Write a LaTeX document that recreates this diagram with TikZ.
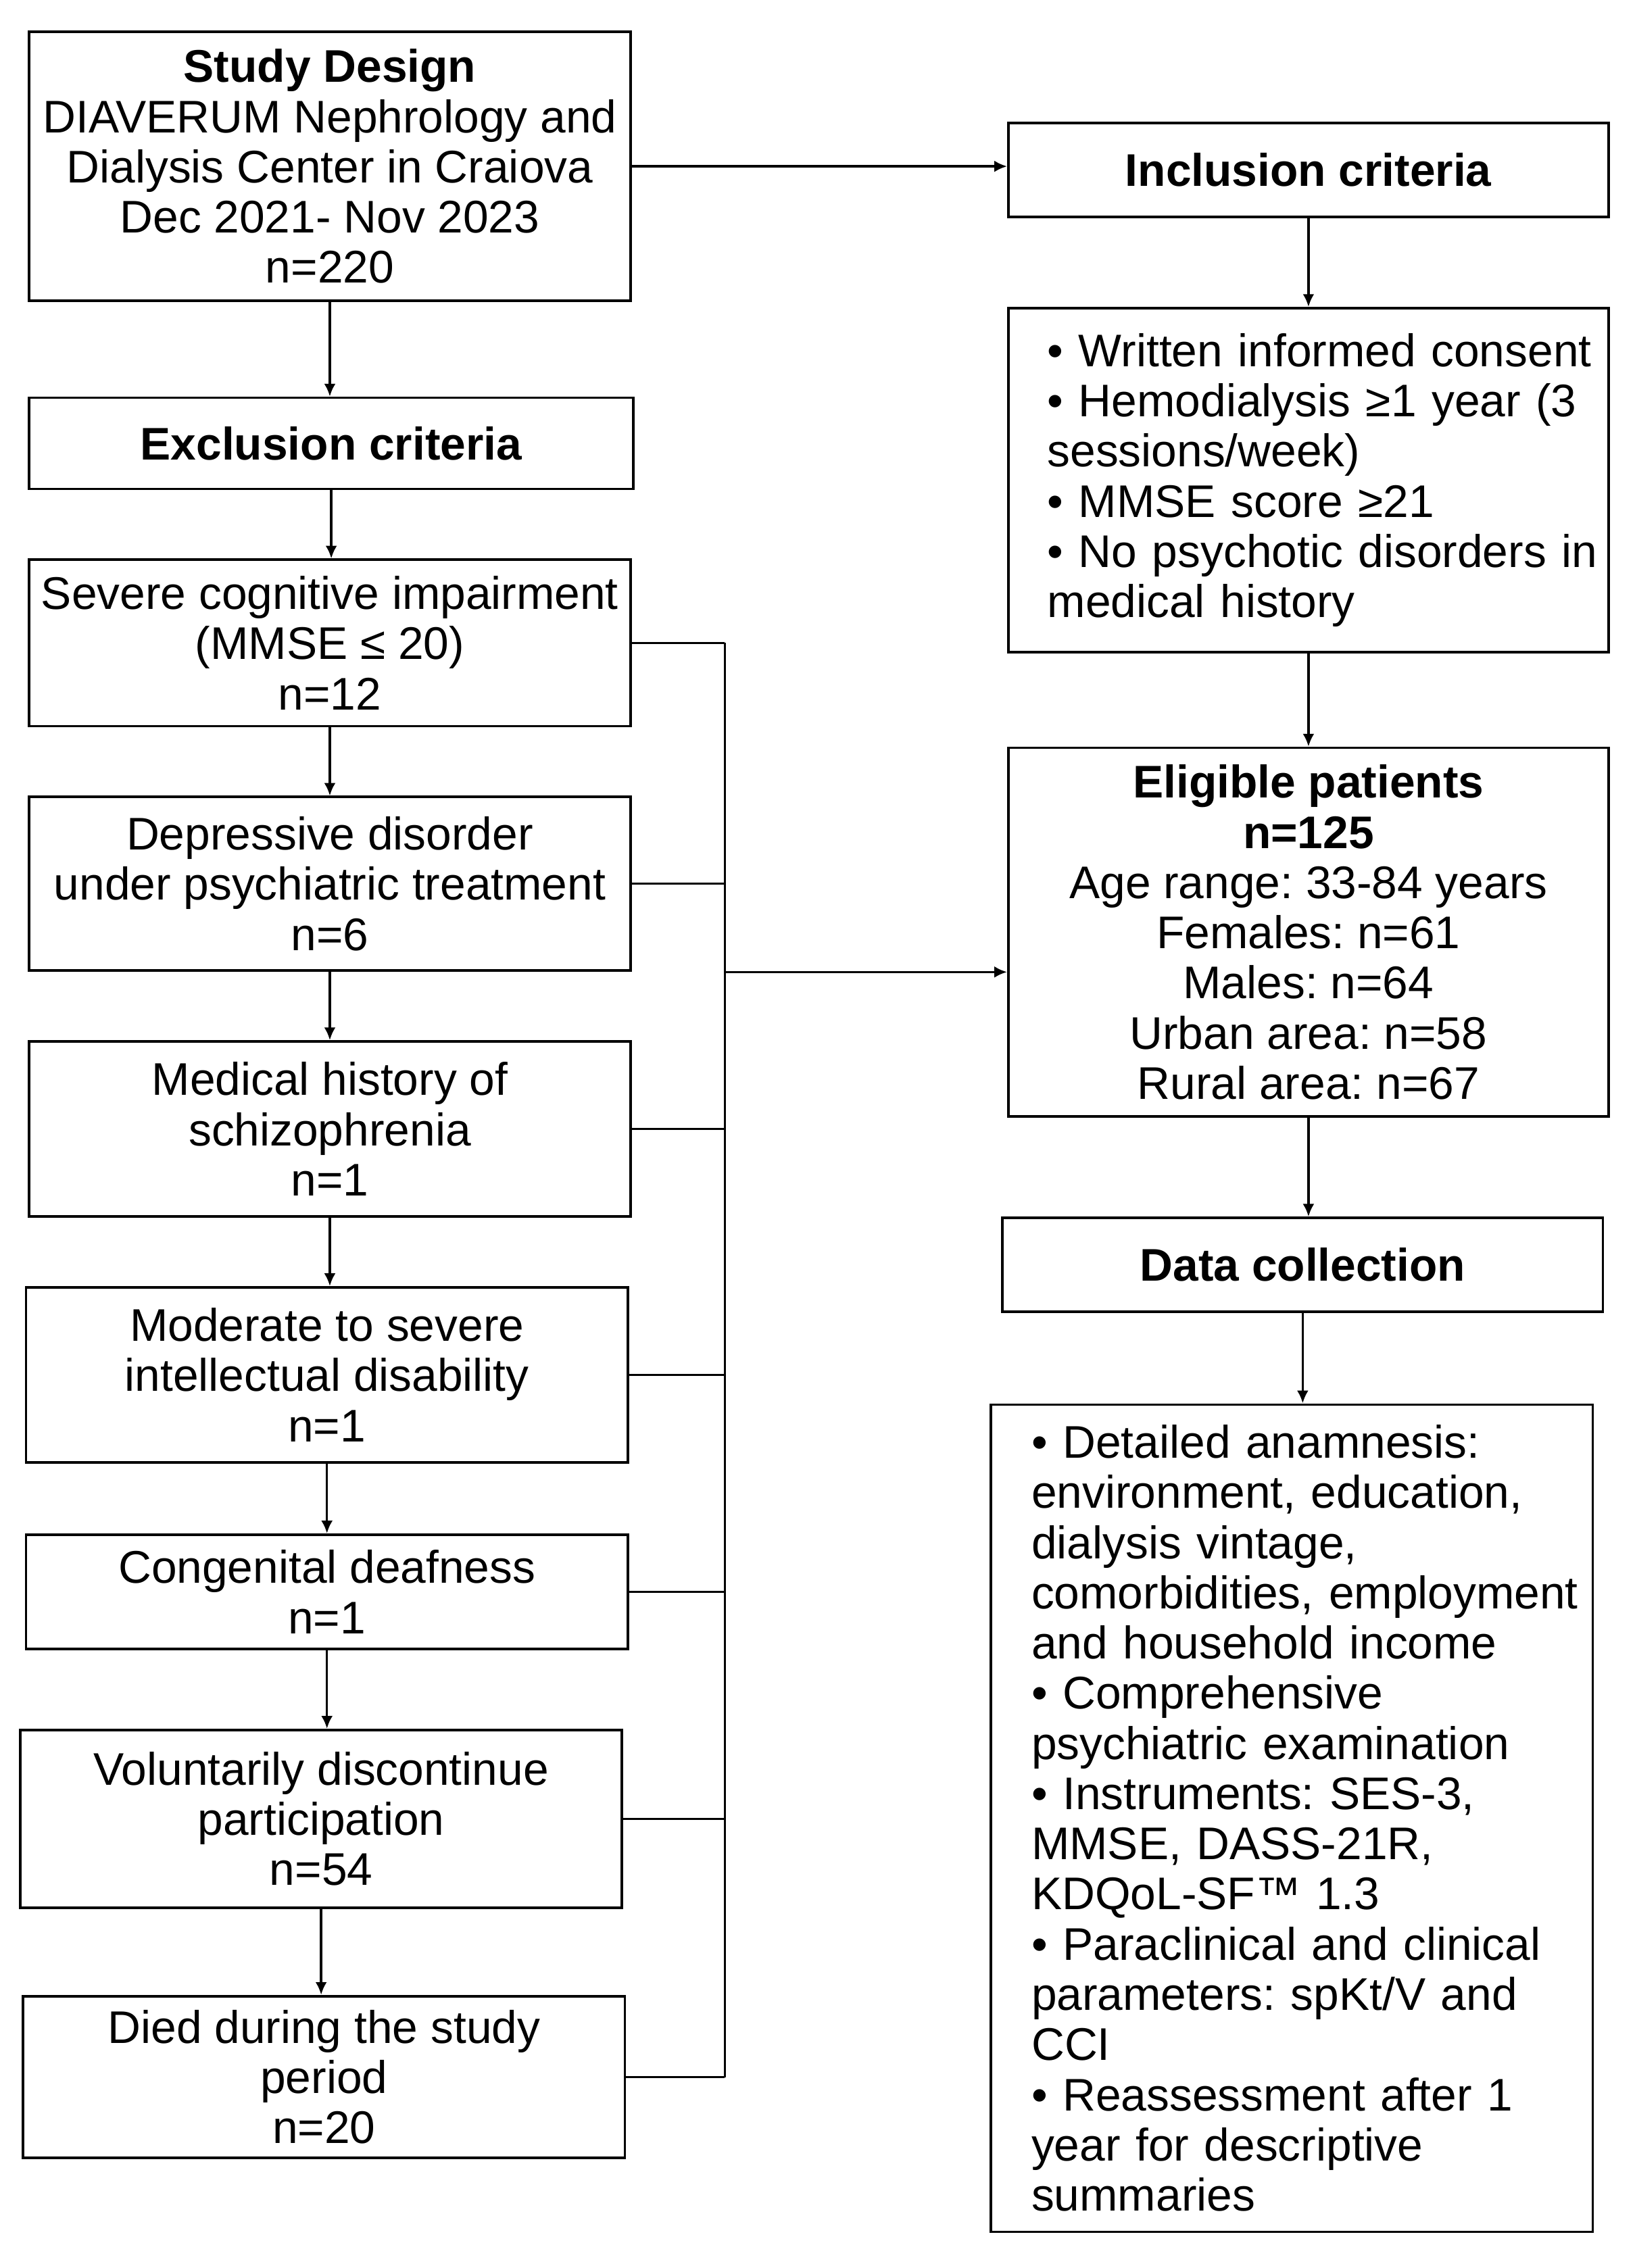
\documentclass[tikz,border=0pt]{standalone}
\usepackage{fontspec}
\setmainfont{Liberation Sans}
\usetikzlibrary{arrows.meta,calc}
\begin{document}
\frenchspacing
\begin{tikzpicture}[x=0.02cm,y=-0.02cm,
  box/.style={draw, line width=1pt, inner sep=0pt, align=center, font=\fontsize{18}{19.75}\selectfont\frenchspacing},
  listbox/.style={draw, line width=1pt, inner xsep=0pt, inner ysep=0pt, align=left, font=\fontsize{18}{19.75}\selectfont\frenchspacing},
  conn/.style={line width=0.9pt},
  arr/.style={line width=0.9pt, -{Latex[length=5pt,width=4.5pt]}}]
\useasboundingbox[fill=white] (0,0) rectangle (1130,1568);

% left column
\node[box, minimum width=8.32cm, minimum height=3.72cm] (sd) at (228,115)
  {\textbf{Study Design}\\DIAVERUM Nephrology and\\Dialysis Center in Craiova\\Dec 2021- Nov 2023\\n=220};
\node[box, minimum width=8.36cm, minimum height=1.26cm] (excl) at (229,306.5) {\textbf{Exclusion criteria}};
\node[box, minimum width=8.32cm, minimum height=2.30cm] (sev) at (228,444.5) {Severe cognitive impairment\\(MMSE ≤ 20)\\n=12};
\node[box, minimum width=8.32cm, minimum height=2.40cm] (dep) at (228,611) {Depressive disorder\\under psychiatric treatment\\n=6};
\node[box, minimum width=8.32cm, minimum height=2.42cm] (sch) at (228,780.5) {Medical history of\\schizophrenia\\n=1};
\node[box, minimum width=8.32cm, minimum height=2.42cm] (mod) at (226,950.5) {Moderate to severe\\intellectual disability\\n=1};
\node[box, minimum width=8.32cm, minimum height=1.58cm] (cong) at (226,1100.5) {Congenital deafness\\n=1};
\node[box, minimum width=8.32cm, minimum height=2.46cm] (vol) at (222,1257.5) {Voluntarily discontinue\\participation\\n=54};
\node[box, minimum width=8.32cm, minimum height=2.24cm] (died) at (224,1436) {Died during the study\\period\\n=20};

% right column
\node[box, minimum width=8.30cm, minimum height=1.30cm] (inc) at (904.5,117.5) {\textbf{Inclusion criteria}};
\node[listbox, text width=8.30cm, minimum height=4.76cm] (inclist) at (904.5,332)
  {\leftskip=0.54cm • Written informed consent\\• Hemodialysis ≥1 year (3\\sessions/week)\\• MMSE score ≥21\\• No psychotic disorders in\\medical history\par};
\node[box, minimum width=8.30cm, minimum height=5.10cm] (elig) at (904.5,644.5)
  {\textbf{Eligible patients}\\\textbf{n=125}\\Age range: 33-84 years\\Females: n=61\\Males: n=64\\Urban area: n=58\\Rural area: n=67};
\node[box, minimum width=8.30cm, minimum height=1.30cm] (dc) at (900.5,874.5) {\textbf{Data collection}};
\node[listbox, text width=8.32cm, minimum height=11.44cm] (dclist) at (893,1257)
  {\leftskip=0.56cm • Detailed anamnesis:\\environment, education,\\dialysis vintage,\\comorbidities, employment\\and household income\\• Comprehensive\\psychiatric examination\\• Instruments: SES-3,\\MMSE, DASS-21R,\\KDQoL-SF™ 1.3\\• Paraclinical and clinical\\parameters: spKt/V and\\CCI\\• Reassessment after 1\\year for descriptive\\summaries\par};

% left column arrows
\draw[arr] (sd.south) -- (sd.south |- excl.north);
\draw[arr] (excl.south) -- (excl.south |- sev.north);
\draw[arr] (sev.south) -- (sev.south |- dep.north);
\draw[arr] (dep.south) -- (dep.south |- sch.north);
\draw[arr] (sch.south) -- (sch.south |- mod.north);
\draw[arr] (mod.south) -- (mod.south |- cong.north);
\draw[arr] (cong.south) -- (cong.south |- vol.north);
\draw[arr] (vol.south) -- (vol.south |- died.north);

% bus
\coordinate (bustop) at (501,444.5);
\coordinate (busbot) at (501,1436);
\coordinate (busj) at (501,672);
\draw[conn] (sev.east) -- (sev.east -| bustop);
\draw[conn] (dep.east) -- (dep.east -| bustop);
\draw[conn] (sch.east) -- (sch.east -| bustop);
\draw[conn] (mod.east) -- (mod.east -| bustop);
\draw[conn] (cong.east) -- (cong.east -| bustop);
\draw[conn] (vol.east) -- (vol.east -| bustop);
\draw[conn] (died.east) -- (died.east -| bustop);
\draw[conn] (bustop) -- (busbot);
\draw[arr] (busj) -- (busj -| elig.west);

% right column arrows
\draw[arr] (sd.east) -- (sd.east -| inc.west);
\draw[arr] (inc.south) -- (inclist.north);
\draw[arr] (inclist.south) -- (elig.north);
\draw[arr] (elig.south) -- (elig.south |- dc.north);
\draw[arr] (dc.south) -- (dc.south |- dclist.north);
\end{tikzpicture}
\end{document}
